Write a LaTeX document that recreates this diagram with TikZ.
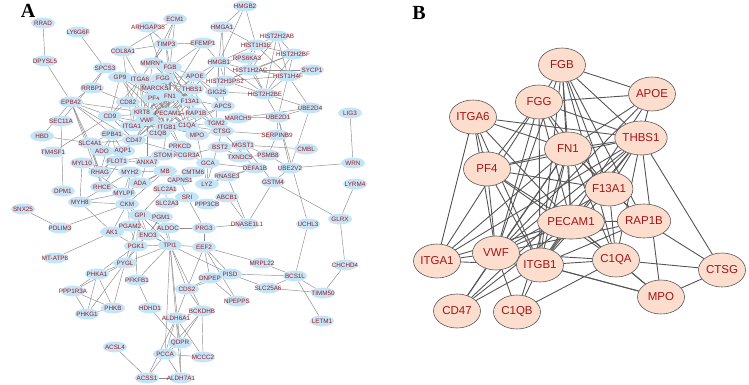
\documentclass[tikz,border=0pt]{standalone}
\usepackage{fontspec}
\setmainfont{Liberation Sans}
\newfontfamily\serifb{Liberation Serif}
\usetikzlibrary{shapes.geometric,backgrounds}
\definecolor{nodeA}{HTML}{C3E5F7}
\definecolor{txtA}{HTML}{9E1A1A}
\definecolor{edgeA}{HTML}{8A8A8A}
\definecolor{nodeB}{HTML}{FCDDCE}
\definecolor{txtB}{HTML}{A31515}
\definecolor{edgeB}{HTML}{555555}
\newcommand\gA[3]{\node[an,label={[al]center:#1}] (#1) at (#2,#3) {};}
\begin{document}
\begin{tikzpicture}[x=1pt,y=-1pt,
 an/.style={ellipse,fill=nodeA,draw=none,minimum width=24pt,minimum height=11pt,inner sep=0pt},
 al/.style={font=\fontsize{6.3}{6.3}\selectfont,text=txtA,inner sep=0pt},
 ae/.style={draw=edgeA,line width=0.45pt},
 bn/.style={ellipse,fill=nodeB,draw=gray!70!black,line width=0.6pt,minimum width=47pt,minimum height=34pt,inner sep=0pt,font=\fontsize{11.5}{12}\selectfont,text=txtB},
 be/.style={draw=edgeB,line width=0.9pt},
 plab/.style={font=\serifb\bfseries\fontsize{20}{20}\selectfont,inner sep=0pt}]
\useasboundingbox (0,0) rectangle (749,385);
\node[plab] (LA) at (28,11) {A};
\node[plab] (LB) at (419,13) {B};
% ---------- panel A nodes ----------
\gA{RRAD}{43}{23}
\gA{LY6G6F}{78}{32}
\gA{DPYSL5}{45}{61}
\gA{ARHGAP35}{148}{27}
\gA{COL8A1}{123}{51}
\gA{ECM1}{175}{19}
\gA{HMGB2}{245}{6}
\gA{HMGA1}{222}{27}
\gA{TIMP3}{166}{44}
\gA{EFEMP1}{203}{43}
\gA{HIST1H1E}{256}{45}
\gA{HIST2H2AB}{277}{36}
\gA{HIST2H2BF}{293}{54}
\gA{RPS6KA3}{247}{58}
\gA{HMGB1}{219}{62}
\gA{SPCS3}{105}{68}
\gA{MMRN1}{152}{63}
\gA{FGB}{170}{67}
\gA{HIST1H2AC}{250}{70}
\gA{SYCP1}{312}{70}
\gA{HIST1H4F}{288}{76}
\gA{GP9}{120}{77}
\gA{ITGA6}{140}{79}
\gA{FGG}{163}{78}
\gA{APOE}{195}{76}
\gA{HIST2H3PS2}{225}{81}
\gA{RRBP1}{92}{88}
\gA{MARCKS}{155}{88}
\gA{THBS1}{192}{89}
\gA{GIG25}{217}{92}
\gA{HIST2H2BE}{265}{94}
\gA{EPB42}{71}{102}
\gA{CD82}{128}{102}
\gA{PF4}{154}{98}
\gA{FN1}{170}{96}
\gA{F13A1}{190}{101}
\gA{APCS}{223}{106}
\gA{UBE2D4}{310}{108}
\gA{LIG3}{350}{113}
\gA{KRT8}{142}{112}
\gA{PECAM1}{168}{113}
\gA{RAP1B}{196}{113}
\gA{CD9}{110}{116}
\gA{MARCH5}{238}{118}
\gA{UBE2D1}{278}{117}
\gA{SEC11A}{61}{121}
\gA{VWF}{147}{120}
\gA{ITGA1}{132}{126}
\gA{ITGB1}{167}{127}
\gA{C1QA}{187}{126}
\gA{TGM2}{216}{123}
\gA{C1QB}{158}{134}
\gA{MPO}{197}{135}
\gA{CTSG}{222}{131}
\gA{SERPINB9}{277}{135}
\gA{HBD}{42}{136}
\gA{EPB41}{112}{134}
\gA{CD47}{134}{140}
\gA{SLC4A1}{90}{143}
\gA{PRKCD}{180}{146}
\gA{BST2}{220}{147}
\gA{MGST1}{243}{145}
\gA{CMBL}{306}{149}
\gA{TM4SF1}{53}{152}
\gA{ADO}{102}{151}
\gA{AQP1}{123}{151}
\gA{STOM}{163}{155}
\gA{FCGR3A}{187}{155}
\gA{TXNDC5}{240}{157}
\gA{PSMB8}{268}{155}
\gA{FLOT1}{117}{161}
\gA{ANXA7}{147}{162}
\gA{GCA}{208}{163}
\gA{WRN}{353}{163}
\gA{MYL10}{82}{163}
\gA{RHAG}{100}{172}
\gA{MYH2}{130}{172}
\gA{MB}{165}{171}
\gA{CMTM6}{193}{172}
\gA{DEFA1B}{255}{168}
\gA{UBE2V2}{290}{168}
\gA{RNASE3}{227}{176}
\gA{CAPNS1}{180}{180}
\gA{LYZ}{207}{184}
\gA{ADA}{140}{183}
\gA{GSTM4}{273}{182}
\gA{LYRM4}{355}{184}
\gA{DPM1}{63}{191}
\gA{RHCE}{102}{187}
\gA{MYLPF}{124}{193}
\gA{SLC2A1}{165}{189}
\gA{SRI}{187}{197}
\gA{ABCB1}{227}{197}
\gA{MYH8}{80}{202}
\gA{CKM}{127}{204}
\gA{SLC2A3}{167}{203}
\gA{PPP3CB}{207}{204}
\gA{SNX25}{23}{209}
\gA{GPI}{140}{215}
\gA{PGM1}{161}{217}
\gA{GLRX}{340}{219}
\gA{PDLIM3}{60}{228}
\gA{PGAM2}{130}{226}
\gA{ALDOC}{168}{228}
\gA{PRG3}{204}{228}
\gA{DNASE1L1}{247}{224}
\gA{UCHL3}{308}{224}
\gA{AK1}{112}{232}
\gA{ENO3}{148}{235}
\gA{PGK1}{136}{246}
\gA{TPI1}{170}{245}
\gA{EEF2}{204}{247}
\node[an,label={[al]center:MT-ATP8}] (MTATP8) at (55,258) {};
\gA{PYGL}{125}{263}
\gA{MRPL22}{262}{263}
\gA{CHCHD4}{345}{265}
\gA{PHKA1}{97}{274}
\gA{PISD}{230}{274}
\gA{DNPEP}{210}{278}
\gA{BCS1L}{295}{276}
\gA{PFKFB1}{137}{280}
\gA{CDS2}{187}{289}
\gA{SLC25A6}{268}{288}
\gA{PPP1R3A}{73}{291}
\gA{TIMM50}{323}{293}
\gA{NPEPPS}{237}{301}
\gA{PHKB}{113}{308}
\gA{HDHD1}{150}{308}
\gA{BCKDHB}{202}{311}
\gA{PHKG1}{87}{314}
\gA{ALDH6A1}{176}{318}
\gA{LETM1}{322}{321}
\gA{QDPR}{180}{343}
\gA{ACSL4}{115}{347}
\gA{PCCA}{165}{354}
\gA{MCCC2}{203}{357}
\gA{ACSS1}{147}{378}
\gA{ALDH7A1}{181}{378}
% ---------- panel B nodes ----------
\node[bn] (bFGB) at (562,65) {FGB};
\node[bn] (bAPOE) at (652,94) {APOE};
\node[bn] (bFGG) at (539,102) {FGG};
\node[bn] (bITGA6) at (473,117) {ITGA6};
\node[bn] (bTHBS1) at (641,138) {THBS1};
\node[bn] (bFN1) at (568,149) {FN1};
\node[bn] (bPF4) at (487,169) {PF4};
\node[bn] (bF13A1) at (609,189) {F13A1};
\node[bn] (bRAP1B) at (644,221) {RAP1B};
\node[bn] (bPECAM1) at (571,222) {PECAM1};
\node[bn] (bITGA1) at (437,261) {ITGA1};
\node[bn] (bVWF) at (496,253) {VWF};
\node[bn] (bITGB1) at (540,265) {ITGB1};
\node[bn] (bC1QA) at (616,260) {C1QA};
\node[bn] (bCTSG) at (722,270) {CTSG};
\node[bn] (bMPO) at (661,297) {MPO};
\node[bn] (bCD47) at (457,311) {CD47};
\node[bn] (bC1QB) at (517,312) {C1QB};
% ---------- edges ----------
\begin{scope}[on background layer]
\foreach \u/\v in {RRAD/DPYSL5, DPYSL5/EPB42, LY6G6F/SPCS3, COL8A1/ECM1, COL8A1/ITGB1, COL8A1/TIMP3, COL8A1/ITGA1, ARHGAP35/FN1, ARHGAP35/TIMP3,
 ECM1/TIMP3, ECM1/FGB, ECM1/MMRN1, TIMP3/MMRN1, TIMP3/FGB, TIMP3/EFEMP1, TIMP3/ITGA6, TIMP3/FN1, EFEMP1/HMGB1, EFEMP1/FN1, EFEMP1/FGB,
 HMGB2/HMGA1, HMGB2/HMGB1, HMGB2/HIST1H1E, HMGA1/HMGB1, HMGA1/HIST1H1E, HMGA1/HIST2H3PS2,
 HMGB1/HIST1H1E, HMGB1/RPS6KA3, HMGB1/HIST1H2AC, HMGB1/HIST2H3PS2, HMGB1/APOE, HMGB1/THBS1, HMGB1/GIG25, HMGB1/HIST2H2BE, HMGB1/TGM2,
 HIST1H1E/HIST2H2AB, HIST1H1E/HIST2H2BF, HIST1H1E/HIST1H2AC, HIST1H1E/HIST1H4F, HIST1H1E/RPS6KA3, HIST2H2AB/HIST2H2BF, HIST2H2AB/HIST1H2AC,
 HIST2H2AB/HIST1H4F, HIST2H2AB/HIST2H2BE, HIST2H2BF/HIST1H2AC, HIST2H2BF/HIST1H4F, HIST2H2BF/HIST2H2BE, HIST2H2BF/HIST2H3PS2,
 RPS6KA3/HIST1H2AC, RPS6KA3/HIST2H2BE, HIST1H2AC/HIST1H4F, HIST1H2AC/HIST2H2BE, HIST1H2AC/HIST2H3PS2, HIST1H2AC/SYCP1, HIST1H4F/SYCP1,
 HIST1H4F/HIST2H2BE, HIST1H4F/HIST2H3PS2, HIST1H4F/UBE2D4, HIST1H4F/UBE2D1, HIST2H2BE/HIST2H3PS2, HIST2H2BE/UBE2D1, HIST2H2BE/UBE2D4,
 HIST2H2BE/GIG25, HIST2H3PS2/GIG25, HIST2H3PS2/APCS,
 UBE2D4/UBE2D1, UBE2D4/UBE2V2, UBE2D1/MARCH5, UBE2D1/UBE2V2, UBE2D1/UCHL3, UBE2D4/MARCH5,
 LIG3/WRN, WRN/UBE2V2, UBE2V2/GSTM4, UBE2V2/PSMB8, GSTM4/GLRX, GSTM4/MGST1, GSTM4/DNASE1L1, LYRM4/GLRX, GLRX/CHCHD4, CHCHD4/TIMM50, UCHL3/BCS1L,
 SERPINB9/CTSG, SERPINB9/PSMB8, SERPINB9/UBE2D1, CMBL/MGST1, PSMB8/MGST1, PSMB8/TXNDC5,
 MRPL22/BCS1L, MRPL22/EEF2, SLC25A6/BCS1L, SLC25A6/TIMM50, SLC25A6/PISD, BCS1L/TIMM50, BCS1L/LETM1, PISD/BCS1L, PISD/EEF2, PISD/TPI1, PISD/CDS2,
 DNPEP/NPEPPS, DNPEP/EEF2, DNPEP/CDS2, EEF2/NPEPPS, EEF2/CDS2, EEF2/TPI1, EEF2/PRG3,
 TPI1/CDS2, TPI1/ALDH6A1, TPI1/BCKDHB, TPI1/QDPR, TPI1/PCCA, TPI1/PFKFB1, TPI1/PYGL, TPI1/PGK1, TPI1/ENO3, TPI1/ALDOC, TPI1/GPI, TPI1/PGAM2, TPI1/PGM1,
 CDS2/BCKDHB, CDS2/ALDH6A1, HDHD1/PFKFB1, HDHD1/QDPR,
 ALDH6A1/BCKDHB, ALDH6A1/QDPR, ALDH6A1/PCCA, ALDH6A1/MCCC2, ALDH6A1/ALDH7A1, ALDH6A1/ACSS1, BCKDHB/QDPR, BCKDHB/MCCC2, BCKDHB/PCCA,
 QDPR/PCCA, QDPR/ALDH7A1, PCCA/MCCC2, PCCA/ACSS1, PCCA/ALDH7A1, ACSS1/ALDH7A1, ACSS1/ACSL4,
 PGK1/PYGL, PGK1/PFKFB1, PGK1/PHKA1, PYGL/PHKA1, PYGL/PHKB, PYGL/PHKG1, PYGL/PPP1R3A, PYGL/PGM1, PYGL/GPI,
 PHKA1/PPP1R3A, PHKA1/PHKB, PHKA1/PHKG1, PPP1R3A/PHKG1, PPP1R3A/PHKB, PHKB/PHKG1, MTATP8/AK1,
 SNX25/PDLIM3, PDLIM3/CKM,
 MYH8/MYL10, MYH8/MYH2, MYH8/MYLPF, MYH8/CKM, MYH8/AK1, MYH2/MYLPF, MYH2/CKM, MYH2/MB, MYH2/ADA, MYLPF/CKM, MYLPF/MB,
 CKM/AK1, CKM/PGAM2, CKM/ENO3, CKM/MB, CKM/GPI, MYL10/MYH2, MYL10/MYLPF, DPM1/SEC11A,
 HBD/SLC4A1, HBD/EPB42, SLC4A1/EPB42, SLC4A1/EPB41, SLC4A1/AQP1, SLC4A1/RHAG, SLC4A1/RHCE, SLC4A1/CD47, SLC4A1/ADO,
 EPB42/EPB41, EPB42/RHAG, EPB42/CD47, EPB42/RHCE, EPB42/CD9, EPB42/KRT8, EPB41/RHAG, EPB41/AQP1, EPB41/CD47, EPB41/FLOT1, EPB41/ADO,
 RHAG/RHCE, RHAG/AQP1, RHAG/CD47, RHCE/CD47, AQP1/FLOT1, FLOT1/STOM, FLOT1/ANXA7, STOM/ANXA7, ADA/ANXA7, ADA/MB,
 SEC11A/SPCS3, SPCS3/RRBP1, RRBP1/CD82, RRBP1/EPB42, TM4SF1/CD9,
 GP9/VWF, GP9/ITGB1, GP9/CD9, GP9/PF4, GP9/ITGA6, GP9/F13A1, MMRN1/VWF, MMRN1/F13A1, MARCKS/PRKCD, MARCKS/FN1,
 KRT8/ITGB1, KRT8/ITGA6, KRT8/FN1, CD82/CD9, CD82/ITGB1, CD82/ITGA6, CD9/ITGA6, CD9/ITGA1, CD9/ITGB1, CD9/CD47, CD9/PECAM1,
 TGM2/FN1, TGM2/ITGB1, APCS/C1QA, APCS/FN1, APCS/APOE, APCS/C1QB, GIG25/APOE,
 MPO/CTSG, MPO/LYZ, CTSG/LYZ, CTSG/DEFA1B, PRKCD/FCGR3A, PRKCD/ITGB1, FCGR3A/GCA, FCGR3A/CD47, GCA/LYZ, GCA/DEFA1B,
 BST2/TXNDC5, BST2/FCGR3A, TXNDC5/MGST1, DEFA1B/LYZ, DEFA1B/RNASE3, RNASE3/LYZ, CAPNS1/SRI, CAPNS1/ANXA7, CMTM6/CAPNS1,
 SLC2A1/SLC2A3, SLC2A1/GPI, SRI/PPP3CB, SRI/PRG3, PRG3/DNASE1L1, PRG3/ALDOC, ABCB1/DNASE1L1, DNASE1L1/RNASE3, ANXA7/VWF, STOM/ITGB1,
 PGM1/GPI, PGM1/ALDOC, PGM1/ENO3, ALDOC/GPI, ALDOC/ENO3, GPI/ENO3, GPI/PGAM2, PGAM2/ENO3, PGAM2/PGK1, PGAM2/AK1, ENO3/PGK1, AK1/PGK1, GPI/PGK1,
 FGB/APOE, FGB/FGG, FGB/FN1, FGB/THBS1, FGB/F13A1, FGB/PECAM1, FGB/ITGB1, FGB/VWF, FGB/C1QA, FGB/RAP1B,
 APOE/FGG, APOE/THBS1, APOE/FN1, APOE/VWF, APOE/ITGB1,
 FGG/FN1, FGG/THBS1, FGG/PF4, FGG/VWF, FGG/ITGB1, FGG/F13A1, FGG/PECAM1, FGG/ITGA1,
 ITGA6/THBS1, ITGA6/FN1, ITGA6/PF4, ITGA6/ITGA1, ITGA6/VWF, ITGA6/ITGB1, ITGA6/PECAM1,
 THBS1/FN1, THBS1/PF4, THBS1/VWF, THBS1/ITGB1, THBS1/PECAM1, THBS1/ITGA1, THBS1/CD47, THBS1/CTSG, THBS1/F13A1, THBS1/C1QA, THBS1/MPO,
 FN1/PF4, FN1/VWF, FN1/ITGB1, FN1/ITGA1, FN1/PECAM1, FN1/F13A1, FN1/C1QA, FN1/RAP1B, FN1/CD47, FN1/C1QB,
 PF4/VWF, PF4/ITGB1, PF4/F13A1, PF4/PECAM1, PF4/C1QA, F13A1/VWF, F13A1/ITGB1, F13A1/RAP1B, F13A1/C1QA,
 RAP1B/VWF, RAP1B/ITGB1, RAP1B/CTSG, RAP1B/PECAM1, PECAM1/VWF, PECAM1/ITGB1, PECAM1/C1QA, PECAM1/ITGA1, PECAM1/CD47, PECAM1/MPO,
 ITGA1/VWF, ITGA1/ITGB1, VWF/ITGB1, VWF/CD47, VWF/C1QB, VWF/C1QA, VWF/MPO, ITGB1/C1QA, ITGB1/CD47, ITGB1/C1QB, ITGB1/MPO,
 C1QA/CTSG, C1QA/MPO, C1QA/C1QB, CTSG/MPO}
 {\draw[ae] (\u) -- (\v);}
\foreach \u/\v in {FGB/APOE, FGB/FGG, FGB/FN1, FGB/THBS1, FGB/F13A1, FGB/PECAM1, FGB/ITGB1, FGB/VWF, FGB/C1QA, FGB/RAP1B,
 APOE/FGG, APOE/THBS1, APOE/FN1, APOE/VWF, APOE/ITGB1,
 FGG/FN1, FGG/THBS1, FGG/PF4, FGG/VWF, FGG/ITGB1, FGG/F13A1, FGG/PECAM1, FGG/ITGA1,
 ITGA6/THBS1, ITGA6/FN1, ITGA6/PF4, ITGA6/ITGA1, ITGA6/VWF, ITGA6/ITGB1, ITGA6/PECAM1,
 THBS1/FN1, THBS1/PF4, THBS1/VWF, THBS1/ITGB1, THBS1/PECAM1, THBS1/ITGA1, THBS1/CD47, THBS1/CTSG, THBS1/F13A1, THBS1/C1QA, THBS1/MPO,
 FN1/PF4, FN1/VWF, FN1/ITGB1, FN1/ITGA1, FN1/PECAM1, FN1/F13A1, FN1/C1QA, FN1/RAP1B, FN1/CD47, FN1/C1QB,
 PF4/VWF, PF4/ITGB1, PF4/F13A1, PF4/PECAM1, PF4/C1QA, F13A1/VWF, F13A1/ITGB1, F13A1/RAP1B, F13A1/C1QA,
 RAP1B/VWF, RAP1B/ITGB1, RAP1B/CTSG, RAP1B/PECAM1, PECAM1/VWF, PECAM1/ITGB1, PECAM1/C1QA, PECAM1/ITGA1, PECAM1/CD47, PECAM1/MPO,
 ITGA1/VWF, ITGA1/ITGB1, VWF/ITGB1, VWF/CD47, VWF/C1QB, VWF/C1QA, VWF/MPO, ITGB1/C1QA, ITGB1/CD47, ITGB1/C1QB, ITGB1/MPO,
 C1QA/CTSG, C1QA/MPO, C1QA/C1QB, CTSG/MPO}
 {\draw[be] (b\u) -- (b\v);}
\end{scope}
\end{tikzpicture}
\end{document}
